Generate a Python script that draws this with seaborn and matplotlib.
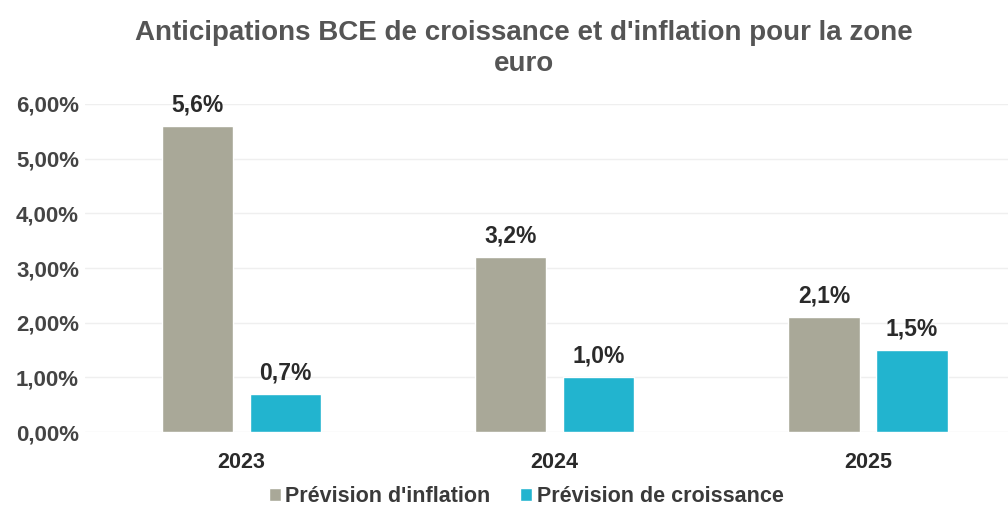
import pandas as pd
import matplotlib
matplotlib.use("Agg")
import matplotlib.pyplot as plt
import seaborn as sns
from matplotlib.ticker import FuncFormatter

years = ["2023", "2024", "2025"]
inflation = [5.6, 3.2, 2.1]
croissance = [0.7, 1.0, 1.5]
series = ["Prévision d'inflation", "Prévision de croissance"]
colors = ["#a9a898", "#22b4cf"]

df = pd.DataFrame({
    "annee": years * 2,
    "valeur": inflation + croissance,
    "serie": [series[0]] * 3 + [series[1]] * 3,
})

sns.set_theme(style="white")
plt.rcParams["font.family"] = ["Liberation Sans", "DejaVu Sans"]

fig = plt.figure(figsize=(10.08, 5.12), dpi=100)
ax = fig.add_axes([0.084, 0.156, 0.916, 0.641])

sns.barplot(data=df, x="annee", y="valeur", hue="serie", palette=colors,
            saturation=1, width=0.562, gap=0.19, ax=ax, legend=True)

for cont in ax.containers:
    ax.bar_label(cont, labels=[f"{v:.1f}%".replace(".", ",") for v in cont.datavalues],
                 padding=7, fontsize=16.5, fontweight="bold", color="#2a2a2a")

ax.set_ylim(0, 6)
ax.set_xlim(-0.5, 2.447)
ax.set_yticks([0, 1, 2, 3, 4, 5, 6])
ax.yaxis.set_major_formatter(FuncFormatter(lambda v, p: f"{v:.2f}%".replace(".", ",")))
ax.yaxis.grid(True, color="#efefef", linewidth=1)
ax.set_axisbelow(True)
for s in ax.spines.values():
    s.set_visible(False)
ax.set_xlabel("")
ax.set_ylabel("")
ax.tick_params(axis="y", labelsize=16, labelcolor="#444444", pad=4, length=0)
ax.tick_params(axis="x", labelsize=15.5, labelcolor="#2a2a2a", pad=14, length=0)
for t in ax.get_yticklabels() + ax.get_xticklabels():
    t.set_fontweight("bold")

handles, labels = ax.get_legend_handles_labels()
ax.get_legend().remove()
fig.legend(handles, labels, loc="center", bbox_to_anchor=(0.522, 0.03), ncol=2,
           frameon=False, prop={"weight": "bold", "size": 15.5},
           handlelength=0.55, handleheight=0.55, handletextpad=0.2,
           columnspacing=1.4, labelcolor="#3a3a3a", borderpad=0.1)

fig.suptitle("Anticipations BCE de croissance et d'inflation pour la zone\neuro",
             x=0.52, y=0.96, fontsize=20, fontweight="bold", color="#555555",
             linespacing=1.25)

fig.savefig("out.png", dpi=100, facecolor="white")
